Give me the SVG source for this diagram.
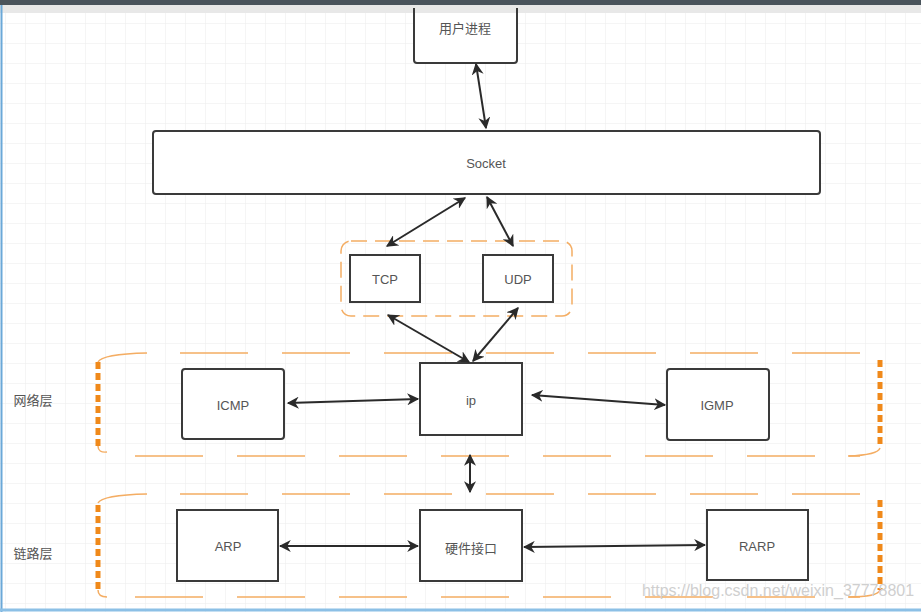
<svg xmlns="http://www.w3.org/2000/svg" width="921" height="612" viewBox="0 0 921 612">
<style>
.node{fill:#fff;stroke:#3a3a3a;stroke-width:2}
.lbl{font-family:"Liberation Sans","Noto Sans CJK SC",sans-serif;font-size:13px;fill:#555;text-anchor:middle;dominant-baseline:central}
.side{font-family:"Noto Sans CJK SC","Liberation Sans",sans-serif;font-size:13px;fill:#555;text-anchor:middle;dominant-baseline:central}
.conn{stroke:#2a2a2a;stroke-width:2;fill:none;marker-start:url(#a);marker-end:url(#a)}
.gline{stroke:#f4ad63;stroke-width:1.5;fill:none;stroke-dasharray:68 34}
.gside{stroke:#f0891a;stroke-width:5;fill:none;stroke-dasharray:7 4}
.gcorner{stroke:#f4ad63;stroke-width:1.5;fill:none}
</style>
<defs>
<pattern id="grid" width="20" height="20" patternUnits="userSpaceOnUse" x="5" y="3">
<path d="M20 0H0V20" fill="none" stroke="#ececec" stroke-width="1"/>
</pattern>
<marker id="a" viewBox="0 0 10 10" refX="9" refY="5" markerWidth="6" markerHeight="6" orient="auto-start-reverse" markerUnits="strokeWidth">
<path d="M0 0L10 5L0 10L3 5Z" fill="#2a2a2a"/>
</marker>
</defs>
<rect width="921" height="612" fill="#fff"/>
<rect x="0" y="12" width="921" height="600" fill="url(#grid)"/>
<rect x="0" y="0" width="921" height="5" fill="#4a545c"/>
<rect x="0" y="5" width="921" height="8" fill="#e8e8e8"/>
<line x1="1.5" y1="5" x2="1.5" y2="612" stroke="#6aa8d8" stroke-width="2"/>
<line x1="0" y1="610" x2="921" y2="610" stroke="#8cc0e6" stroke-width="3"/>

<g id="group-transport">
<rect x="341" y="241" width="231" height="75" rx="10" fill="none" stroke="#f4ad63" stroke-width="1.5" stroke-dasharray="16 8"/>
</g>
<g id="group-network">
<line x1="180" y1="353" x2="860" y2="353" class="gline"/>
<line x1="135" y1="456" x2="860" y2="456" class="gline"/>
<path d="M98 362V446" class="gside"/>
<path d="M98 446Q98 453 107 452" class="gcorner" stroke-width="2"/>
<path d="M98 362Q102 354 147 353" class="gcorner"/>
<path d="M880 360V448" class="gside"/>
<path d="M880 448Q878 455 848 456" class="gcorner"/>
<text x="33" y="399" class="side">网络层</text>
</g>
<g id="group-link">
<line x1="180" y1="494" x2="860" y2="494" class="gline"/>
<line x1="135" y1="597" x2="860" y2="597" class="gline"/>
<path d="M98 505V590" class="gside"/>
<path d="M98 503Q102 495 147 494" class="gcorner"/>
<path d="M98 590Q98 597 107 597" class="gcorner" stroke-width="2"/>
<path d="M880 500V590" class="gside"/>
<path d="M880 590Q878 597 848 597" class="gcorner"/>
<text x="33" y="552" class="side">链路层</text>
</g>

<g id="node-user">
<rect x="414" y="0" width="103" height="63" rx="3" class="node"/>
<rect x="0" y="0" width="921" height="5" fill="#4a545c"/>
<rect x="410" y="5" width="111" height="8" fill="#e8e8e8"/>
<line x1="414" y1="13" x2="414" y2="8" stroke="#3a3a3a" stroke-width="2"/>
<line x1="517" y1="13" x2="517" y2="8" stroke="#3a3a3a" stroke-width="2"/>
<text x="465" y="27" class="side" font-size="12">用户进程</text>
</g>
<g id="node-socket">
<rect x="153" y="131" width="667" height="63" rx="3" class="node"/>
<text x="486" y="163" class="lbl">Socket</text>
</g>
<g id="node-tcp">
<rect x="350" y="255" width="70" height="47" class="node"/>
<text x="385" y="279" class="lbl">TCP</text>
</g>
<g id="node-udp">
<rect x="483" y="255" width="70" height="47" class="node"/>
<text x="518" y="279" class="lbl">UDP</text>
</g>
<g id="node-ip">
<rect x="420" y="363" width="102" height="72" class="node"/>
<text x="471" y="400" class="lbl">ip</text>
</g>
<g id="node-icmp">
<rect x="182" y="369" width="102" height="70" rx="3" class="node"/>
<text x="233" y="405" class="lbl">ICMP</text>
</g>
<g id="node-igmp">
<rect x="667" y="369" width="102" height="71" rx="3" class="node"/>
<text x="717" y="405" class="lbl">IGMP</text>
</g>
<g id="node-arp">
<rect x="177" y="510" width="101" height="71" class="node"/>
<text x="228" y="546" class="lbl">ARP</text>
</g>
<g id="node-hw">
<rect x="420" y="510" width="102" height="71" class="node"/>
<text x="471" y="547" class="side">硬件接口</text>
</g>
<g id="node-rarp">
<rect x="707" y="510" width="101" height="70" class="node"/>
<text x="757" y="546" class="lbl">RARP</text>
</g>

<g id="connectors">
<line x1="476" y1="64" x2="486" y2="128" class="conn"/>
<line x1="465" y1="198" x2="387" y2="246" class="conn"/>
<line x1="487" y1="197" x2="513" y2="246" class="conn"/>
<line x1="388" y1="315" x2="469" y2="362" class="conn"/>
<line x1="518" y1="308" x2="473" y2="361" class="conn"/>
<line x1="288" y1="403" x2="418" y2="399" class="conn"/>
<line x1="532" y1="395" x2="665" y2="405" class="conn"/>
<line x1="470" y1="455" x2="470" y2="492" class="conn"/>
<line x1="280" y1="546" x2="418" y2="546" class="conn"/>
<line x1="524" y1="547" x2="705" y2="545" class="conn"/>
</g>
<text x="778" y="596" font-family="Liberation Sans,sans-serif" font-size="16" fill="#cfcfcf" text-anchor="middle">https://blog.csdn.net/weixin_37778801</text>
</svg>
